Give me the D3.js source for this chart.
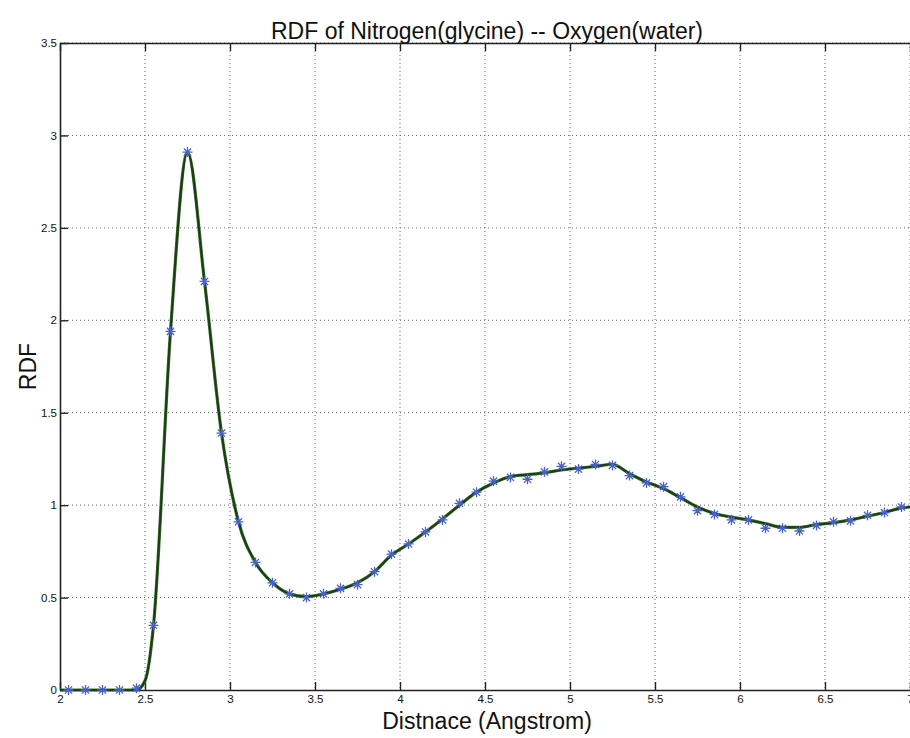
<!DOCTYPE html>
<html>
<head>
<meta charset="utf-8">
<script src="https://cdn.jsdelivr.net/npm/d3@7"></script>
<style>
  html, body { margin: 0; padding: 0; background: #fff; overflow: hidden; }
  text { font-family: "Liberation Sans", Arial, sans-serif; fill: #111; }
</style>
</head>
<body>
<svg id="chart" width="910" height="738"></svg>
<script>
// sampled RDF values (markers)
var markerX = [2.05, 2.15, 2.25, 2.35, 2.45, 2.55, 2.65, 2.75, 2.85, 2.95,
               3.05, 3.15, 3.25, 3.35, 3.45, 3.55, 3.65, 3.75, 3.85, 3.95,
               4.05, 4.15, 4.25, 4.35, 4.45, 4.55, 4.65, 4.75, 4.85, 4.95,
               5.05, 5.15, 5.25, 5.35, 5.45, 5.55, 5.65, 5.75, 5.85, 5.95,
               6.05, 6.15, 6.25, 6.35, 6.45, 6.55, 6.65, 6.75, 6.85, 6.95];
var markerY = [0, 0, 0, 0, 0.01, 0.35, 1.94, 2.91, 2.21, 1.39,
               0.91, 0.69, 0.58, 0.52, 0.50, 0.52, 0.55, 0.57, 0.64, 0.735,
               0.79, 0.855, 0.92, 1.01, 1.07, 1.13, 1.15, 1.14, 1.18, 1.21,
               1.195, 1.22, 1.215, 1.16, 1.12, 1.10, 1.045, 0.97, 0.95, 0.92,
               0.92, 0.875, 0.875, 0.86, 0.89, 0.91, 0.915, 0.945, 0.96, 0.99];

// smoothed curve drawn over the markers
var lineX = [2.0, 2.45, 2.5, 2.55, 2.65, 2.75, 2.85, 2.95, 3.05, 3.15,
             3.25, 3.35, 3.45, 3.55, 3.65, 3.75, 3.85, 3.95, 4.05, 4.15,
             4.25, 4.35, 4.45, 4.55, 4.65, 4.75, 4.85, 4.95, 5.05, 5.15,
             5.25, 5.35, 5.45, 5.55, 5.65, 5.75, 5.85, 5.95, 6.05, 6.15,
             6.25, 6.35, 6.45, 6.55, 6.65, 6.75, 6.85, 6.95, 7.0];
var lineY = [0, 0, 0.05, 0.35, 1.94, 2.91, 2.21, 1.39, 0.91, 0.69,
             0.58, 0.52, 0.505, 0.52, 0.545, 0.58, 0.64, 0.73, 0.79, 0.855,
             0.925, 1.0, 1.07, 1.12, 1.155, 1.165, 1.175, 1.19, 1.2, 1.21,
             1.22, 1.17, 1.125, 1.09, 1.04, 0.99, 0.955, 0.935, 0.92, 0.9,
             0.88, 0.88, 0.895, 0.905, 0.92, 0.94, 0.96, 0.985, 0.99];

var xTicks = [2, 2.5, 3, 3.5, 4, 4.5, 5, 5.5, 6, 6.5, 7];
var yTicks = [0, 0.5, 1, 1.5, 2, 2.5, 3, 3.5];

var titleText = "RDF of Nitrogen(glycine) -- Oxygen(water)";
var xLabelText = "Distnace (Angstrom)";
var yLabelText = "RDF";

var svg = d3.select("#chart");
var plotLeft = 60, plotRight = 910, plotTop = 43, plotBottom = 690;

var x = d3.scaleLinear().domain([2, 7]).range([plotLeft, plotRight]);
var y = d3.scaleLinear().domain([0, 3.5]).range([plotBottom, plotTop]);

// grid
var grid = svg.append("g");
grid.selectAll(".vg").data(xTicks.slice(1)).enter().append("line")
    .attr("x1", function(d) { return x(d); })
    .attr("x2", function(d) { return x(d); })
    .attr("y1", plotTop).attr("y2", plotBottom)
    .attr("stroke", "#666").attr("stroke-width", 1)
    .attr("stroke-dasharray", "1,3");
grid.selectAll(".hg").data(yTicks.slice(1)).enter().append("line")
    .attr("y1", function(d) { return y(d); })
    .attr("y2", function(d) { return y(d); })
    .attr("x1", plotLeft).attr("x2", plotRight)
    .attr("stroke", "#666").attr("stroke-width", 1)
    .attr("stroke-dasharray", "1,3");

// axes (boxed, inward ticks)
var xAxis = d3.axisBottom(x).tickValues(xTicks).tickSizeInner(-8).tickSizeOuter(0)
    .tickPadding(5).tickFormat(d3.format("~g"));
var yAxis = d3.axisLeft(y).tickValues(yTicks).tickSizeInner(-8).tickSizeOuter(0)
    .tickPadding(3).tickFormat(d3.format("~g"));
var xTop = d3.axisTop(x).tickValues(xTicks).tickSizeInner(-8).tickSizeOuter(0)
    .tickFormat("");

var gx = svg.append("g").attr("transform", "translate(0," + plotBottom + ")").call(xAxis);
var gy = svg.append("g").attr("transform", "translate(" + plotLeft + ",0)").call(yAxis);
var gt = svg.append("g").attr("transform", "translate(0," + plotTop + ")").call(xTop);

[gx, gy, gt].forEach(function(g) {
    g.select(".domain").attr("stroke", "#222").attr("stroke-width", 1.6);
    g.selectAll(".tick line").attr("stroke", "#222").attr("stroke-width", 1.4);
    g.selectAll(".tick text").style("font-size", "11.5px")
        .style("font-family", "'Liberation Sans', Arial, sans-serif").attr("fill", "#222");
});

// curve
var line = d3.line()
    .x(function(d) { return x(d[0]); })
    .y(function(d) { return y(d[1]); })
    .curve(d3.curveMonotoneX);
var linePts = lineX.map(function(v, i) { return [v, lineY[i]]; });
svg.append("path").datum(linePts)
    .attr("d", line)
    .attr("fill", "none")
    .attr("stroke", "#3d7a2a")
    .attr("stroke-width", 3.2);
svg.append("path").datum(linePts)
    .attr("d", line)
    .attr("fill", "none")
    .attr("stroke", "#1d3a1a")
    .attr("stroke-width", 2);

// asterisk markers
var r = 5, rd = r * 0.72;
var star = "M" + (-r) + ",0L" + r + ",0M0," + (-r) + "L0," + r +
    "M" + (-rd) + "," + (-rd) + "L" + rd + "," + rd +
    "M" + (-rd) + "," + rd + "L" + rd + "," + (-rd);
svg.append("g").selectAll("path").data(markerX).enter().append("path")
    .attr("transform", function(d, i) { return "translate(" + x(d) + "," + y(markerY[i]) + ")"; })
    .attr("d", star)
    .attr("stroke", "#4a63c8")
    .attr("stroke-width", 1.3)
    .attr("fill", "none");

// labels
svg.append("text").attr("x", 487).attr("y", 39)
    .attr("text-anchor", "middle").style("font-size", "23px").text(titleText);
svg.append("text").attr("x", 487).attr("y", 729)
    .attr("text-anchor", "middle").style("font-size", "23px").text(xLabelText);
svg.append("text")
    .attr("transform", "translate(36," + ((plotTop + plotBottom) / 2) + ") rotate(-90)")
    .attr("text-anchor", "middle").style("font-size", "23px").text(yLabelText);
</script>
</body>
</html>
